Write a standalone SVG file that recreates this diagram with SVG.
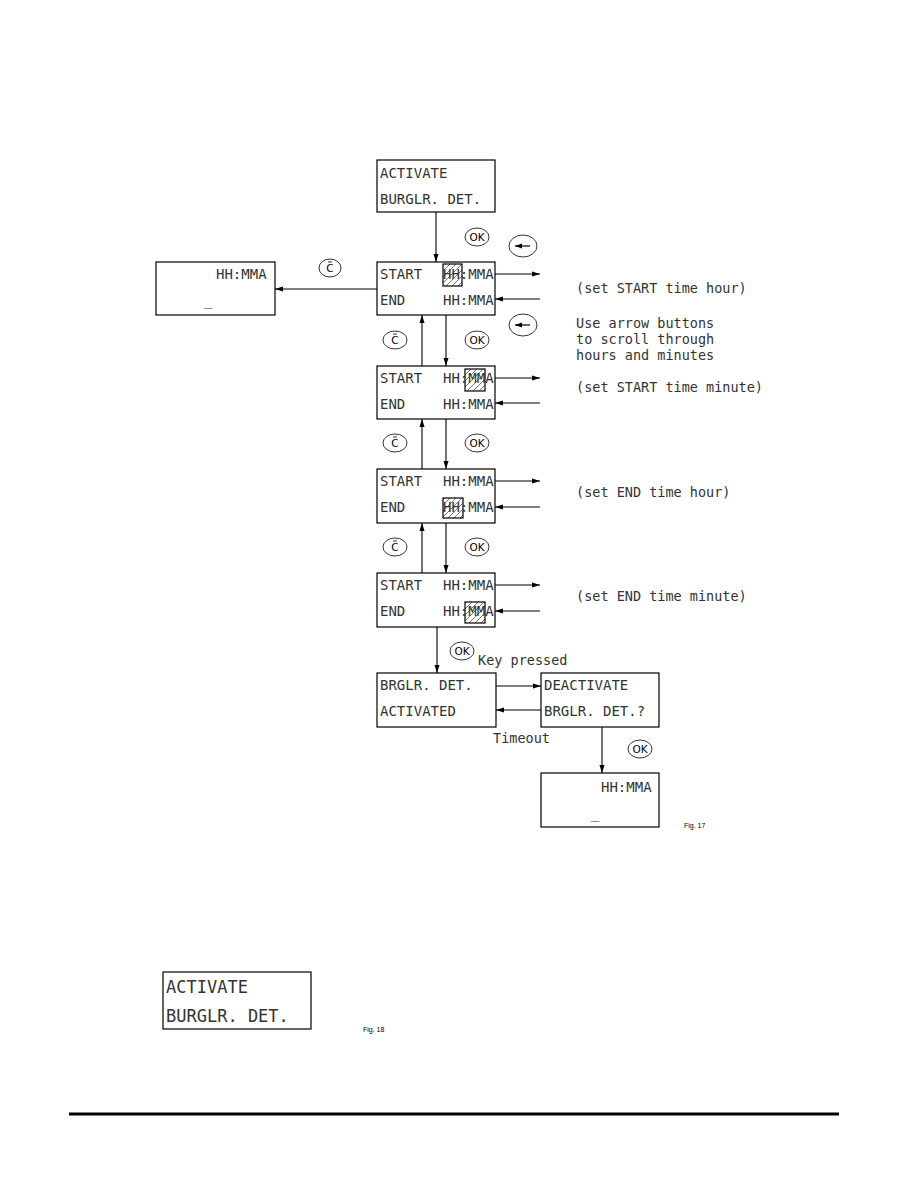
<svg xmlns="http://www.w3.org/2000/svg" width="918" height="1188" viewBox="0 0 918 1188">
<style>
.box{fill:none;stroke:#000;stroke-width:1.2}
.t{font-family:"DejaVu Sans Mono","Liberation Mono",monospace;font-size:14px;fill:#333}
.lbl{font-family:"DejaVu Sans Mono","Liberation Mono",monospace;font-size:13.5px;fill:#333}
.big{font-family:"DejaVu Sans Mono","Liberation Mono",monospace;font-size:17px;fill:#333}
.fig{font-family:"Liberation Sans",sans-serif;font-size:7px;fill:#000}
.btn{fill:none;stroke:#000;stroke-width:0.8}
.bt{font-family:"DejaVu Sans",sans-serif;font-size:10.5px;fill:#000;text-anchor:middle}
.c{fill:none;stroke:#000;stroke-width:1.1;marker-end:url(#ah)}
.hatch{fill:url(#hp);stroke:#000;stroke-width:1.2}
</style>
<defs>
<marker id="ah" markerUnits="userSpaceOnUse" markerWidth="9" markerHeight="6" refX="8" refY="3" orient="auto">
<path d="M0,0.5 L8,3 L0,5.5 z" fill="#000"/>
</marker>
<pattern id="hp" patternUnits="userSpaceOnUse" width="6" height="6">
<path d="M0,6 L6,0 M-1,1 L1,-1 M5,7 L7,5" stroke="#555" stroke-width="0.8"/>
</pattern>
</defs>
<rect width="918" height="1188" fill="#fff"/>

<g id="connectors">
<line class="c" x1="436" y1="212" x2="436" y2="262"/>
<line class="c" x1="377" y1="289" x2="275" y2="289"/>
<line class="c" x1="422" y1="366" x2="422" y2="315"/>
<line class="c" x1="422" y1="469" x2="422" y2="419"/>
<line class="c" x1="422" y1="573" x2="422" y2="523"/>
<line class="c" x1="446" y1="315" x2="446" y2="366"/>
<line class="c" x1="446" y1="419" x2="446" y2="469"/>
<line class="c" x1="446" y1="523" x2="446" y2="573"/>
<line class="c" x1="495" y1="274" x2="540" y2="274"/>
<line class="c" x1="540" y1="299" x2="495" y2="299"/>
<line class="c" x1="495" y1="378" x2="540" y2="378"/>
<line class="c" x1="540" y1="403" x2="495" y2="403"/>
<line class="c" x1="495" y1="481" x2="540" y2="481"/>
<line class="c" x1="540" y1="507" x2="495" y2="507"/>
<line class="c" x1="495" y1="585" x2="540" y2="585"/>
<line class="c" x1="540" y1="611" x2="495" y2="611"/>
<line class="c" x1="437" y1="627" x2="437" y2="673"/>
<line class="c" x1="496" y1="686" x2="541" y2="686"/>
<line class="c" x1="541" y1="710" x2="496" y2="710"/>
<line class="c" x1="602" y1="727" x2="602" y2="773"/>
</g>

<g id="buttons">
<ellipse class="btn" cx="477" cy="237" rx="12" ry="9"/><text class="bt" x="477" y="241">OK</text>
<ellipse class="btn" cx="477" cy="340" rx="12" ry="9"/><text class="bt" x="477" y="344">OK</text>
<ellipse class="btn" cx="477" cy="443" rx="12" ry="9"/><text class="bt" x="477" y="447">OK</text>
<ellipse class="btn" cx="477" cy="547" rx="12" ry="9"/><text class="bt" x="477" y="551">OK</text>
<ellipse class="btn" cx="462" cy="651" rx="12" ry="9"/><text class="bt" x="462" y="655">OK</text>
<ellipse class="btn" cx="640" cy="749" rx="12" ry="9"/><text class="bt" x="640" y="753">OK</text>
<ellipse class="btn" cx="330" cy="268" rx="11" ry="9"/><text class="bt" x="330" y="272">C</text><line x1="328" y1="262" x2="332" y2="262" stroke="#000" stroke-width="0.8"/>
<ellipse class="btn" cx="395" cy="340" rx="12" ry="9"/><text class="bt" x="395" y="344">C</text><line x1="393" y1="334" x2="397" y2="334" stroke="#000" stroke-width="0.8"/>
<ellipse class="btn" cx="395" cy="443" rx="12" ry="9"/><text class="bt" x="395" y="447">C</text><line x1="393" y1="437" x2="397" y2="437" stroke="#000" stroke-width="0.8"/>
<ellipse class="btn" cx="395" cy="547" rx="12" ry="9"/><text class="bt" x="395" y="551">C</text><line x1="393" y1="541" x2="397" y2="541" stroke="#000" stroke-width="0.8"/>
<ellipse class="btn" cx="523" cy="246" rx="14" ry="11"/>
<line x1="530" y1="246" x2="515" y2="246" stroke="#000" stroke-width="1.2"/><path d="M515,246 L522,243.5 L522,248.5 z" fill="#000"/>
<ellipse class="btn" cx="523" cy="325" rx="14" ry="11"/>
<line x1="530" y1="325" x2="515" y2="325" stroke="#000" stroke-width="1.2"/><path d="M515,325 L522,322.5 L522,327.5 z" fill="#000"/>
</g>

<g id="n1"><rect class="box" x="377" y="160" width="118" height="52"/>
<text class="t" x="380" y="178">ACTIVATE</text><text class="t" x="380" y="204">BURGLR. DET.</text></g>

<g id="n2"><rect class="box" x="377" y="262" width="118" height="53"/>
<rect class="hatch" x="443" y="264" width="19" height="22"/>
<text class="t" x="380" y="279">START</text><text class="t" x="443" y="279">HH:MMA</text>
<text class="t" x="380" y="305">END</text><text class="t" x="443" y="305">HH:MMA</text></g>

<g id="n3"><rect class="box" x="377" y="366" width="118" height="53"/>
<rect class="hatch" x="465" y="369" width="20" height="22"/>
<text class="t" x="380" y="383">START</text><text class="t" x="443" y="383">HH:MMA</text>
<text class="t" x="380" y="409">END</text><text class="t" x="443" y="409">HH:MMA</text></g>

<g id="n4"><rect class="box" x="377" y="469" width="118" height="54"/>
<rect class="hatch" x="443" y="498" width="20" height="20"/>
<text class="t" x="380" y="486">START</text><text class="t" x="443" y="486">HH:MMA</text>
<text class="t" x="380" y="512">END</text><text class="t" x="443" y="512">HH:MMA</text></g>

<g id="n5"><rect class="box" x="377" y="573" width="118" height="54"/>
<rect class="hatch" x="465" y="602" width="20" height="21"/>
<text class="t" x="380" y="590">START</text><text class="t" x="443" y="590">HH:MMA</text>
<text class="t" x="380" y="616">END</text><text class="t" x="443" y="616">HH:MMA</text></g>

<g id="n6"><rect class="box" x="377" y="673" width="119" height="54"/>
<text class="t" x="380" y="690">BRGLR. DET.</text><text class="t" x="380" y="716">ACTIVATED</text></g>

<g id="n7"><rect class="box" x="541" y="673" width="118" height="54"/>
<text class="t" x="544" y="690">DEACTIVATE</text><text class="t" x="544" y="716">BRGLR. DET.?</text></g>

<g id="n8"><rect class="box" x="541" y="773" width="118" height="54"/>
<text class="t" x="601" y="792">HH:MMA</text><text class="t" x="591" y="818">_</text></g>

<g id="n9"><rect class="box" x="156" y="262" width="119" height="53"/>
<text class="t" x="216" y="279">HH:MMA</text><text class="t" x="204" y="305">_</text></g>

<g id="labels">
<text class="lbl" x="576" y="293">(set START time hour)</text>
<text class="lbl" x="576" y="328">Use arrow buttons</text>
<text class="lbl" x="576" y="344">to scroll through</text>
<text class="lbl" x="576" y="360">hours and minutes</text>
<text class="lbl" x="576" y="392">(set START time minute)</text>
<text class="lbl" x="576" y="497">(set END time hour)</text>
<text class="lbl" x="576" y="601">(set END time minute)</text>
<text class="lbl" x="478" y="665">Key pressed</text>
<text class="lbl" x="493" y="743">Timeout</text>
<text class="fig" x="684" y="828">Fig. 17</text>
<text class="fig" x="363" y="1032">Fig. 18</text>
</g>

<g id="n10"><rect class="box" x="163" y="972" width="148" height="57"/>
<text class="big" x="166" y="993">ACTIVATE</text><text class="big" x="166" y="1022">BURGLR. DET.</text></g>

<line x1="69" y1="1114" x2="839" y2="1114" stroke="#000" stroke-width="3"/>
</svg>
